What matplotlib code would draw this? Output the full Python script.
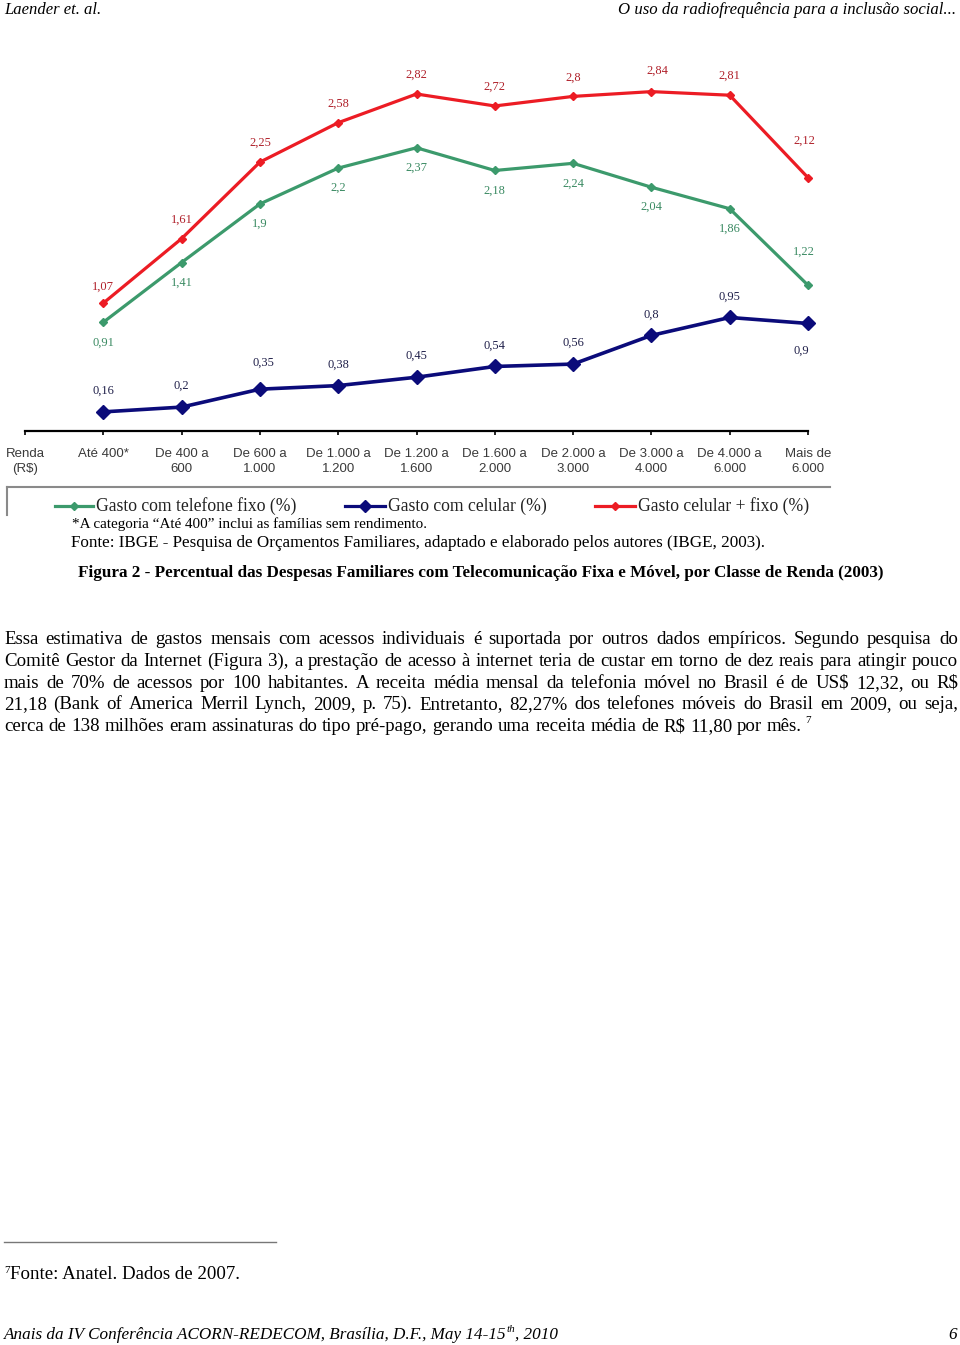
import matplotlib
matplotlib.use("Agg")
import matplotlib.pyplot as plt
from matplotlib.lines import Line2D

# chart data
categories = ["Renda\n(R$)", "Até 400*", "De 400 a\n600", "De 600 a\n1.000",
              "De 1.000 a\n1.200", "De 1.200 a\n1.600", "De 1.600 a\n2.000",
              "De 2.000 a\n3.000", "De 3.000 a\n4.000", "De 4.000 a\n6.000",
              "Mais de\n6.000"]
fixo = [0.91, 1.41, 1.9, 2.2, 2.37, 2.18, 2.24, 2.04, 1.86, 1.22]
celular = [0.16, 0.2, 0.35, 0.38, 0.45, 0.54, 0.56, 0.8, 0.95, 0.9]
total = [1.07, 1.61, 2.25, 2.58, 2.82, 2.72, 2.8, 2.84, 2.81, 2.12]
legend_labels = ["Gasto com telefone fixo (%)", "Gasto com celular (%)",
                 "Gasto celular + fixo (%)"]

paragraph = [
    "Essa estimativa de gastos mensais com acessos individuais é suportada por outros dados empíricos. Segundo pesquisa do",
    "Comitê Gestor da Internet (Figura 3), a prestação de acesso à internet teria de custar em torno de dez reais para atingir pouco",
    "mais de 70% de acessos por 100 habitantes. A receita média mensal da telefonia móvel no Brasil é de US$ 12,32, ou R$",
    "21,18 (Bank of America Merril Lynch, 2009, p. 75). Entretanto, 82,27% dos telefones móveis do Brasil em 2009, ou seja,",
    "cerca de 138 milhões eram assinaturas do tipo pré-pago, gerando uma receita média de R$ 11,80 por mês.",
]

GREEN = "#3c9a6c"
BLUE = "#0b0b7a"
RED = "#ec1c24"
SERIF = "Liberation Serif"
SANS = "Liberation Sans"

W, H = 960, 1345
fig = plt.figure(figsize=(9.6, 13.45), dpi=100)
fig.patch.set_facecolor("white")


def fx(x):
    return x / W


def fy(y):
    return 1 - y / H


# --- chart axes -----------------------------------------------------------
zero_px, top_px, scale = 431, 60, 119.5
ax = fig.add_axes([fx(25), fy(zero_px), (808 - 25) / W, (zero_px - top_px) / H])
ax.set_xlim(0, 10)
ax.set_ylim(0, (zero_px - top_px) / scale)
for s in ["top", "left", "right"]:
    ax.spines[s].set_visible(False)
ax.spines["bottom"].set_linewidth(1.6)
ax.set_yticks([])
ax.set_xticks(range(11))
ax.set_xticklabels(categories, fontsize=9.5, family=SANS, color="#3a3a3a",
                   linespacing=1.35)
ax.tick_params(axis="x", length=3, width=1.2, pad=9)

xs = list(range(1, 11))
ax.plot(xs, total, color=RED, lw=2.3, marker="D", ms=4, clip_on=False, zorder=3)
ax.plot(xs, fixo, color=GREEN, lw=2.3, marker="D", ms=4, clip_on=False, zorder=3)
ax.plot(xs, celular, color=BLUE, lw=2.6, marker="D", ms=7.5, clip_on=False, zorder=3)


def fmt(v):
    return str(v).replace(".", ",")


# label offsets in pixels (dx, dy)
red_off = [(0, 16)] + [(0, 19)] * 6 + [(6, 21), (0, 19), (-4, 37)]
green_off = [(0, -20)] * 9 + [(-4, 33)]
blue_off = [(0, 21), (0, 21), (4, 26)] + [(0, 21)] * 6 + [(-7, -27)]

for vals, offs, col in [(total, red_off, "#b0202a"), (fixo, green_off, "#3a8a62"),
                        (celular, blue_off, "#20204a")]:
    for x, v, (dx, dy) in zip(xs, vals, offs):
        ax.annotate(fmt(v), (x, v), xytext=(dx, dy), textcoords="offset pixels",
                    ha="center", va="center", fontsize=9, family=SERIF, color=col)

# --- legend frame and entries ---------------------------------------------
fig.add_artist(Line2D([fx(7), fx(830)], [fy(487), fy(487)], color="#8a8a8a", lw=1.5))
fig.add_artist(Line2D([fx(7), fx(7)], [fy(487), fy(515)], color="#8a8a8a", lw=1.5))
for (x0, x1), col, ms, lab in zip([(55, 93), (345, 385), (595, 635)],
                                   [GREEN, BLUE, RED], [4, 6, 4], legend_labels):
    fig.add_artist(Line2D([fx(x0), fx(x1)], [fy(506), fy(506)], color=col, lw=2.3))
    fig.add_artist(Line2D([fx((x0 + x1) / 2)], [fy(506)], color=col, marker="D", ms=ms))
    fig.text(fx(x1 + 3), fy(506), lab, fontsize=12.7, family=SERIF, va="center",
             color="#222222")

# --- captions --------------------------------------------------------------
fig.text(fx(72), fy(524), "*A categoria \u201cAté 400\u201d inclui as famílias sem rendimento.",
         fontsize=10.9, family=SERIF, va="center")
fig.text(fx(71), fy(543), "Fonte: IBGE - Pesquisa de Orçamentos Familiares, adaptado e "
         "elaborado pelos autores (IBGE, 2003).", fontsize=12.25, family=SERIF, va="center")
fig.text(fx(481), fy(573), "Figura 2 - Percentual das Despesas Familiares com Telecomunicação "
         "Fixa e Móvel, por Classe de Renda (2003)", fontsize=12.3, family=SERIF,
         weight="bold", ha="center", va="center")

# --- header / footer -------------------------------------------------------
fig.text(fx(4), fy(14), "Laender et. al.", fontsize=12, family=SERIF, style="italic",
         va="baseline")
fig.text(fx(956), fy(14), "O uso da radiofrequência para a inclusão social...",
         fontsize=12.1, family=SERIF, style="italic", ha="right", va="baseline")

renderer = fig.canvas.get_renderer()
foot = fig.text(fx(4), fy(1339), "Anais da IV Conferência ACORN-REDECOM, Brasília, D.F., May 14-15",
                fontsize=12.3, family=SERIF, style="italic", va="baseline")
fw = foot.get_window_extent(renderer).width
sup = fig.text(fx(4 + fw), fy(1332), "th", fontsize=8, family=SERIF, style="italic",
               va="baseline")
sw = sup.get_window_extent(renderer).width
fig.text(fx(4 + fw + sw), fy(1339), ", 2010", fontsize=12.3, family=SERIF,
         style="italic", va="baseline")
fig.text(fx(957), fy(1339), "6", fontsize=12.3, family=SERIF, style="italic",
         ha="right", va="baseline")

fig.add_artist(Line2D([fx(4), fx(276)], [fy(1242), fy(1242)], color="#777777", lw=1))
fig.text(fx(4), fy(1273), "7", fontsize=8, family=SERIF, va="baseline")
fig.text(fx(10), fy(1279), "Fonte: Anatel. Dados de 2007.", fontsize=13.6, family=SERIF,
         va="baseline")

# --- justified paragraph ---------------------------------------------------
PSIZE = 13.6
x_left, x_right = 4, 958
t1 = fig.text(0, 0, "a a", fontsize=PSIZE, family=SERIF)
t2 = fig.text(0, 0, "aa", fontsize=PSIZE, family=SERIF)
space = t1.get_window_extent(renderer).width - t2.get_window_extent(renderer).width
t1.remove()
t2.remove()

baseline = 644
for i, line in enumerate(paragraph):
    words = line.split(" ")
    items = [fig.text(0, fy(baseline), w, fontsize=PSIZE, family=SERIF, va="baseline")
             for w in words]
    widths = [t.get_window_extent(renderer).width for t in items]
    last = i == len(paragraph) - 1
    gap = space if last else (x_right - x_left - sum(widths)) / (len(words) - 1)
    x = x_left
    for t, w in zip(items, widths):
        t.set_x(fx(x))
        x += w + gap
    if last:
        fig.text(fx(x - gap + 3), fy(baseline - 8), "7", fontsize=8, family=SERIF,
                 va="baseline")
    baseline += 21.8

fig.savefig("out.png", dpi=100)
